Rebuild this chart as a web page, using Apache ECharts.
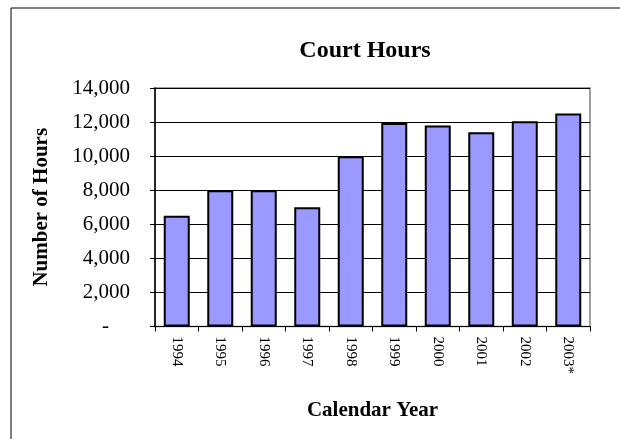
<!DOCTYPE html>
<html>
<head>
<meta charset="utf-8">
<script src="https://cdn.jsdelivr.net/npm/echarts@6/dist/echarts.min.js"></script>
<style>
  html, body { margin: 0; padding: 0; background: #fff; }
  #mybox { width: 620px; height: 439px; }
</style>
</head>
<body>
<div id="mybox"></div>
<script>
// data
var years = ['1994', '1995', '1996', '1997', '1998', '1999', '2000', '2001', '2002', '2003*'];
var hours = [6500, 8000, 8000, 7000, 10000, 11950, 11800, 11400, 12050, 12500];
var yMin = 0, yMax = 14000, yStep = 2000;

var serif = '"Liberation Serif", "Times New Roman", serif';

var mycharts = echarts.init(document.getElementById('mybox'));

var optionObj = {
    animation: false,
    backgroundColor: '#fff',
    textStyle: { fontFamily: serif, color: '#000' },
    title: {
        text: 'Court Hours',
        left: 360,
        top: 34,
        textAlign: 'center',
        textStyle: { fontFamily: serif, fontSize: 24, fontWeight: 'bold', color: '#000' }
    },
    // outer frame, runs off the right and bottom edges
    graphic: [{
        type: 'rect',
        shape: { x: 11, y: 8, width: 700, height: 500 },
        style: { fill: 'none', stroke: '#000', lineWidth: 1 },
        silent: true
    }],
    grid: {
        left: 155, right: 30, top: 88, bottom: 112.5,
        show: true,
        borderColor: '#808080',
        borderWidth: 1.5
    },
    xAxis: {
        type: 'category',
        data: years,
        name: 'Calendar Year',
        nameLocation: 'middle',
        nameGap: 74,
        nameTextStyle: { fontFamily: serif, fontSize: 21, fontWeight: 'bold', color: '#000', verticalAlign: 'top' },
        axisLine: { lineStyle: { color: '#000', width: 1 } },
        axisTick: { show: true, length: 5, lineStyle: { color: '#000' } },
        axisLabel: { rotate: -90, margin: 10, fontFamily: serif, fontSize: 15, color: '#000' }
    },
    yAxis: {
        type: 'value',
        min: yMin, max: yMax, interval: yStep,
        name: 'Number of Hours',
        nameLocation: 'middle',
        nameGap: 103,
        nameTextStyle: { fontFamily: serif, fontSize: 21, fontWeight: 'bold', color: '#000' },
        axisLine: { show: true, lineStyle: { color: '#000', width: 1.5 } },
        axisTick: { show: true, length: 5, lineStyle: { color: '#000' } },
        axisLabel: {
            margin: 25,
            fontFamily: serif, fontSize: 21, color: '#000',
            formatter: function (v) {
                if (v === 0) return '-    ';
                return v.toString().replace(/\B(?=(\d{3})+(?!\d))/g, ',');
            }
        },
        splitLine: { show: true, lineStyle: { color: '#000', width: 1 } }
    },
    series: [{
        type: 'bar',
        data: hours,
        barWidth: 26,
        itemStyle: { color: '#9999FF', borderColor: '#000', borderWidth: 2 }
    }]
};

mycharts.setOption(optionObj);
</script>
</body>
</html>
